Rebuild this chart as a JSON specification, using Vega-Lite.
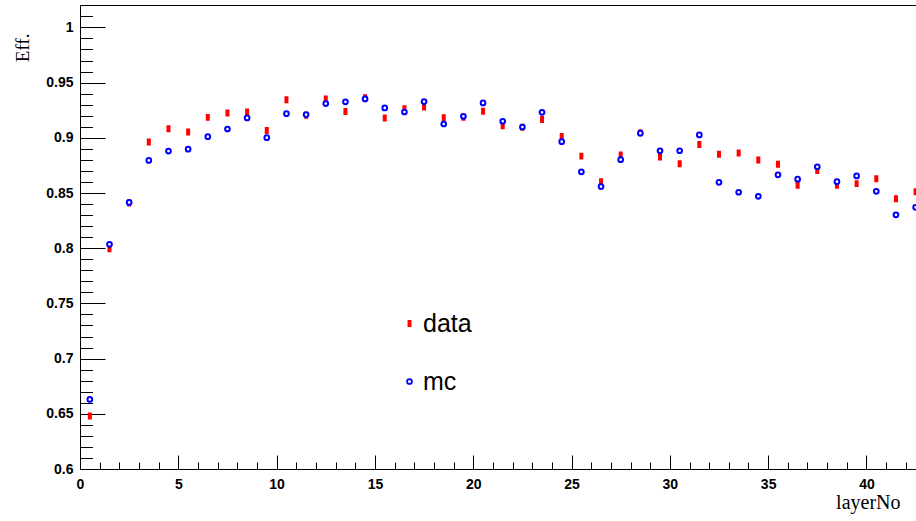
{
  "$schema": "https://vega.github.io/schema/vega-lite/v6.json",
  "width": 836,
  "height": 464,
  "autosize": "none",
  "padding": {"left": 80, "top": 5, "right": 0, "bottom": 52},
  "background": "white",
  "config": {
    "view": {"stroke": null},
    "axis": {"domainColor": "black", "tickColor": "black", "domainWidth": 1, "tickWidth": 1, "grid": false, "labelColor": "black", "titleColor": "black"},
    "legend": {"title": null, "orient": "none", "legendX": 317, "legendY": 306, "padding": 0, "labelFont": "Liberation Sans", "labelFontSize": 25, "labelColor": "black", "symbolSize": 24, "symbolStrokeWidth": 1.8, "rowPadding": 32, "labelOffset": 1}
  },
  "datasets": {
    "pts": [
      {"layer": 0.5, "series": "data", "eff": 0.648},
      {"layer": 1.5, "series": "data", "eff": 0.7995},
      {"layer": 2.5, "series": "data", "eff": 0.841},
      {"layer": 3.5, "series": "data", "eff": 0.8962},
      {"layer": 4.5, "series": "data", "eff": 0.9083},
      {"layer": 5.5, "series": "data", "eff": 0.9052},
      {"layer": 6.5, "series": "data", "eff": 0.9185},
      {"layer": 7.5, "series": "data", "eff": 0.9225},
      {"layer": 8.5, "series": "data", "eff": 0.9234},
      {"layer": 9.5, "series": "data", "eff": 0.9067},
      {"layer": 10.5, "series": "data", "eff": 0.9345},
      {"layer": 11.5, "series": "data", "eff": 0.9205},
      {"layer": 12.5, "series": "data", "eff": 0.9352},
      {"layer": 13.5, "series": "data", "eff": 0.9238},
      {"layer": 14.5, "series": "data", "eff": 0.9363},
      {"layer": 15.5, "series": "data", "eff": 0.9179},
      {"layer": 16.5, "series": "data", "eff": 0.9263},
      {"layer": 17.5, "series": "data", "eff": 0.9279},
      {"layer": 18.5, "series": "data", "eff": 0.9182},
      {"layer": 19.5, "series": "data", "eff": 0.9185},
      {"layer": 20.5, "series": "data", "eff": 0.924},
      {"layer": 21.5, "series": "data", "eff": 0.911},
      {"layer": 22.5, "series": "data", "eff": 0.9095},
      {"layer": 23.5, "series": "data", "eff": 0.9165},
      {"layer": 24.5, "series": "data", "eff": 0.9013},
      {"layer": 25.5, "series": "data", "eff": 0.8834},
      {"layer": 26.5, "series": "data", "eff": 0.8602},
      {"layer": 27.5, "series": "data", "eff": 0.8844},
      {"layer": 28.5, "series": "data", "eff": 0.9045},
      {"layer": 29.5, "series": "data", "eff": 0.8826},
      {"layer": 30.5, "series": "data", "eff": 0.8766},
      {"layer": 31.5, "series": "data", "eff": 0.894},
      {"layer": 32.5, "series": "data", "eff": 0.8852},
      {"layer": 33.5, "series": "data", "eff": 0.8862},
      {"layer": 34.5, "series": "data", "eff": 0.8798},
      {"layer": 35.5, "series": "data", "eff": 0.8761},
      {"layer": 36.5, "series": "data", "eff": 0.857},
      {"layer": 37.5, "series": "data", "eff": 0.8703},
      {"layer": 38.5, "series": "data", "eff": 0.857},
      {"layer": 39.5, "series": "data", "eff": 0.8585},
      {"layer": 40.5, "series": "data", "eff": 0.863},
      {"layer": 41.5, "series": "data", "eff": 0.8448},
      {"layer": 42.5, "series": "data", "eff": 0.8512},
      {"layer": 0.5, "series": "mc", "eff": 0.663},
      {"layer": 1.5, "series": "mc", "eff": 0.8035},
      {"layer": 2.5, "series": "mc", "eff": 0.8415},
      {"layer": 3.5, "series": "mc", "eff": 0.8795},
      {"layer": 4.5, "series": "mc", "eff": 0.888},
      {"layer": 5.5, "series": "mc", "eff": 0.8897},
      {"layer": 6.5, "series": "mc", "eff": 0.901},
      {"layer": 7.5, "series": "mc", "eff": 0.908},
      {"layer": 8.5, "series": "mc", "eff": 0.918},
      {"layer": 9.5, "series": "mc", "eff": 0.9001},
      {"layer": 10.5, "series": "mc", "eff": 0.9219},
      {"layer": 11.5, "series": "mc", "eff": 0.921},
      {"layer": 12.5, "series": "mc", "eff": 0.931},
      {"layer": 13.5, "series": "mc", "eff": 0.9326},
      {"layer": 14.5, "series": "mc", "eff": 0.9352},
      {"layer": 15.5, "series": "mc", "eff": 0.9271},
      {"layer": 16.5, "series": "mc", "eff": 0.9234},
      {"layer": 17.5, "series": "mc", "eff": 0.9328},
      {"layer": 18.5, "series": "mc", "eff": 0.9125},
      {"layer": 19.5, "series": "mc", "eff": 0.9195},
      {"layer": 20.5, "series": "mc", "eff": 0.9316},
      {"layer": 21.5, "series": "mc", "eff": 0.915},
      {"layer": 22.5, "series": "mc", "eff": 0.9098},
      {"layer": 23.5, "series": "mc", "eff": 0.9231},
      {"layer": 24.5, "series": "mc", "eff": 0.8965},
      {"layer": 25.5, "series": "mc", "eff": 0.8692},
      {"layer": 26.5, "series": "mc", "eff": 0.8558},
      {"layer": 27.5, "series": "mc", "eff": 0.8802},
      {"layer": 28.5, "series": "mc", "eff": 0.9042},
      {"layer": 29.5, "series": "mc", "eff": 0.8883},
      {"layer": 30.5, "series": "mc", "eff": 0.8883},
      {"layer": 31.5, "series": "mc", "eff": 0.9026},
      {"layer": 32.5, "series": "mc", "eff": 0.8597},
      {"layer": 33.5, "series": "mc", "eff": 0.8507},
      {"layer": 34.5, "series": "mc", "eff": 0.847},
      {"layer": 35.5, "series": "mc", "eff": 0.8665},
      {"layer": 36.5, "series": "mc", "eff": 0.8625},
      {"layer": 37.5, "series": "mc", "eff": 0.8738},
      {"layer": 38.5, "series": "mc", "eff": 0.8603},
      {"layer": 39.5, "series": "mc", "eff": 0.8655},
      {"layer": 40.5, "series": "mc", "eff": 0.8515},
      {"layer": 41.5, "series": "mc", "eff": 0.8302},
      {"layer": 42.5, "series": "mc", "eff": 0.837}
    ]
  },
  "data": {"name": "pts"},
  "layer": [
    {
      "mark": {"type": "point", "filled": true, "strokeWidth": 2, "opacity": 1, "size": 22},
      "encoding": {
        "x": {
          "field": "layer", "type": "quantitative",
          "scale": {"domain": [0, 42.52], "nice": false, "zero": false},
          "axis": {
            "orient": "bottom",
            "values": [0, 5, 10, 15, 20, 25, 30, 35, 40],
            "format": "d",
            "tickSize": -14,
            "labelPadding": 22,
            "labelFlush": false,
            "labelOverlap": false,
            "labelFont": "Liberation Sans",
            "labelFontWeight": "bold",
            "labelFontSize": 14,
            "title": "layerNo",
            "titleFont": "Liberation Serif",
            "titleFontSize": 20,
            "titleFontWeight": "normal",
            "titleAlign": "right",
            "titleBaseline": "alphabetic",
            "titleX": 820,
            "titleY": 39
          }
        },
        "y": {
          "field": "eff", "type": "quantitative",
          "scale": {"domain": [0.6, 1.0203], "nice": false, "zero": false},
          "axis": {
            "orient": "left",
            "values": [0.6, 0.65, 0.7, 0.75, 0.8, 0.85, 0.9, 0.95, 1.0],
            "format": ".2~f",
            "tickSize": -25,
            "labelPadding": 32,
            "labelOverlap": false,
            "labelFlush": false,
            "labelFont": "Liberation Sans",
            "labelFontWeight": "bold",
            "labelFontSize": 14,
            "title": "Eff.",
            "titleFont": "Liberation Serif",
            "titleFontSize": 19,
            "titleFontWeight": "normal",
            "titleAngle": -90,
            "titleAlign": "right",
            "titleBaseline": "middle",
            "titleX": -58,
            "titleY": 28
          }
        },
        "fill": {
          "field": "series", "type": "nominal",
          "scale": {"domain": ["data", "mc"], "range": ["#ff0000", "#ffffff"]}
        },
        "stroke": {
          "field": "series", "type": "nominal",
          "scale": {"domain": ["data", "mc"], "range": ["#ff0000", "#0000ff"]}
        },
        "shape": {
          "field": "series", "type": "nominal",
          "scale": {"domain": ["data", "mc"], "range": ["M-0.43,-1.06H0.43V1.06H-0.43Z", "circle"]}
        }
      }
    },
    {
      "mark": {"type": "point", "opacity": 0},
      "encoding": {
        "x": {
          "field": "layer", "type": "quantitative",
          "axis": {
            "orient": "bottom",
            "values": [0,1,2,3,4,5,6,7,8,9,10,11,12,13,14,15,16,17,18,19,20,21,22,23,24,25,26,27,28,29,30,31,32,33,34,35,36,37,38,39,40,41,42],
            "tickSize": -7, "labels": false, "domain": false, "title": null
          }
        },
        "y": {
          "field": "eff", "type": "quantitative",
          "axis": {
            "orient": "left",
            "values": [0.6,0.61,0.62,0.63,0.64,0.65,0.66,0.67,0.68,0.69,0.7,0.71,0.72,0.73,0.74,0.75,0.76,0.77,0.78,0.79,0.8,0.81,0.82,0.83,0.84,0.85,0.86,0.87,0.88,0.89,0.9,0.91,0.92,0.93,0.94,0.95,0.96,0.97,0.98,0.99,1.0,1.01,1.02],
            "tickSize": -12.5, "labels": false, "domain": false, "title": null
          }
        }
      }
    },
    {
      "mark": {"type": "point", "opacity": 0},
      "encoding": {
        "x": {
          "field": "layer", "type": "quantitative",
          "axis": {"orient": "top", "ticks": false, "labels": false, "domain": true, "title": null}
        },
        "y": {"field": "eff", "type": "quantitative", "axis": null}
      }
    }
  ],
  "resolve": {"axis": {"x": "independent", "y": "independent"}}
}
